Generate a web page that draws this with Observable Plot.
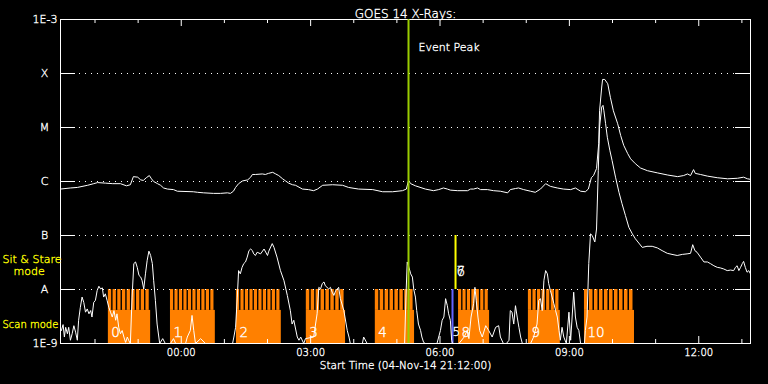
<!DOCTYPE html>
<html><head><meta charset="utf-8">
<script src="https://cdn.jsdelivr.net/npm/d3@7"></script>
<script src="https://cdn.jsdelivr.net/npm/@observablehq/plot@0.6"></script>
<style>html,body{margin:0;padding:0;background:#000;}svg{display:block}</style>
</head><body><div id="chart"></div>
<script>
// Time window
const startTime = "2014-11-04T21:12:00Z";
const endTime = "2014-11-05T13:12:00Z";
// [hours UT relative to 2014-11-05 00:00, log10 flux (W/m^2)]
const longChannel = [[-2.80,-6.14],[-2.57,-6.12],[-2.41,-6.11],[-2.17,-6.07],[-2.03,-6.04],[-1.94,-6.02],[-1.76,-6.03],[-1.59,-6.04],[-1.41,-6.04],[-1.27,-6.08],[-1.18,-6.06],[-1.11,-5.91],[-1.01,-5.92],[-0.94,-5.97],[-0.88,-5.98],[-0.81,-5.93],[-0.74,-5.89],[-0.69,-5.95],[-0.64,-6.00],[-0.55,-6.04],[-0.48,-6.07],[-0.41,-6.12],[-0.32,-6.14],[-0.18,-6.15],[-0.09,-6.18],[0.28,-6.19],[0.38,-6.20],[0.52,-6.21],[0.75,-6.22],[0.91,-6.22],[1.07,-6.21],[1.14,-6.22],[1.21,-6.18],[1.26,-6.11],[1.33,-6.04],[1.42,-5.99],[1.54,-5.97],[1.61,-5.92],[1.65,-5.87],[1.72,-5.87],[1.88,-5.86],[1.95,-5.87],[2.02,-5.85],[2.12,-5.83],[2.19,-5.86],[2.26,-5.89],[2.35,-5.95],[2.42,-5.99],[2.49,-6.03],[2.58,-6.06],[2.65,-6.07],[2.81,-6.14],[2.95,-6.15],[3.07,-6.17],[3.16,-6.14],[3.28,-6.07],[3.51,-6.06],[3.74,-6.07],[3.88,-6.11],[4.11,-6.14],[4.44,-6.15],[4.67,-6.19],[4.90,-6.19],[5.13,-6.17],[5.22,-6.14],[5.27,-5.98],[5.32,-6.04],[5.43,-6.08],[5.66,-6.14],[5.85,-6.17],[5.97,-6.15],[6.08,-6.12],[6.17,-6.14],[6.24,-6.16],[6.41,-6.17],[6.64,-6.17],[6.71,-6.14],[6.78,-6.14],[6.87,-6.12],[6.94,-6.15],[7.10,-6.15],[7.24,-6.17],[7.40,-6.18],[7.57,-6.21],[7.63,-6.15],[7.75,-6.13],[7.82,-6.12],[7.94,-6.15],[8.10,-6.18],[8.21,-6.20],[8.33,-6.14],[8.45,-6.04],[8.56,-6.09],[8.72,-6.12],[8.86,-6.14],[9.03,-6.15],[9.14,-6.12],[9.26,-6.18],[9.37,-6.19],[9.44,-6.14],[9.51,-5.93],[9.56,-5.89],[9.63,-5.76],[9.68,-5.30],[9.70,-4.69],[9.75,-4.25],[9.77,-4.11],[9.82,-4.11],[9.89,-4.19],[9.95,-4.44],[10.02,-4.69],[10.12,-4.93],[10.19,-5.15],[10.26,-5.33],[10.35,-5.48],[10.42,-5.58],[10.53,-5.67],[10.65,-5.75],[10.81,-5.80],[11.04,-5.84],[11.28,-5.88],[11.51,-5.91],[11.65,-5.89],[11.74,-5.86],[11.81,-5.89],[11.88,-5.78],[11.92,-5.85],[12.04,-5.87],[12.20,-5.90],[12.43,-5.93],[12.67,-5.95],[12.90,-5.94],[13.04,-5.92],[13.13,-5.95],[13.20,-5.96]];
const shortChannel = [[-2.78,-8.76],[-2.74,-8.65],[-2.71,-8.88],[-2.68,-8.70],[-2.64,-8.82],[-2.61,-8.70],[-2.57,-8.94],[-2.53,-8.82],[-2.49,-8.67],[-2.45,-8.79],[-2.41,-8.94],[-2.38,-8.57],[-2.34,-8.33],[-2.30,-8.14],[-2.26,-8.24],[-2.22,-8.42],[-2.18,-8.36],[-2.14,-8.45],[-2.10,-8.39],[-2.07,-8.51],[-2.03,-8.24],[-1.99,-8.20],[-1.95,-8.02],[-1.91,-7.94],[-1.87,-7.99],[-1.83,-7.97],[-1.80,-8.14],[-1.76,-8.08],[-1.72,-8.20],[-1.68,-8.33],[-1.64,-8.42],[-1.60,-8.51],[-1.56,-8.39],[-1.52,-8.57],[-1.49,-8.45],[-1.45,-8.70],[-1.41,-8.82],[-1.37,-8.76],[-1.33,-8.88],[-1.29,-8.98],[-1.25,-8.88],[-1.22,-8.94],[-1.18,-9.00],[-1.14,-8.14],[-1.10,-7.52],[-1.06,-7.49],[-1.02,-7.59],[-0.98,-7.74],[-0.94,-7.77],[-0.91,-7.83],[-0.87,-7.99],[-0.83,-7.71],[-0.79,-7.46],[-0.75,-7.29],[-0.71,-7.37],[-0.67,-7.52],[-0.64,-7.83],[-0.60,-8.20],[-0.56,-8.64],[-0.52,-8.88],[-0.50,-9.00],[-0.43,-8.91],[-0.37,-9.00],[-0.25,-9.00],[-0.18,-8.91],[-0.13,-9.00],[0.10,-9.00],[0.14,-8.88],[0.21,-8.76],[0.25,-8.48],[0.29,-8.76],[0.33,-9.00],[0.45,-8.91],[0.56,-9.00],[1.19,-9.00],[1.22,-8.88],[1.26,-8.70],[1.30,-8.14],[1.33,-7.65],[1.37,-7.71],[1.41,-7.59],[1.45,-7.52],[1.49,-7.49],[1.53,-7.40],[1.57,-7.28],[1.61,-7.25],[1.65,-7.28],[1.68,-7.34],[1.72,-7.37],[1.76,-7.31],[1.84,-7.34],[1.92,-7.25],[2.00,-7.37],[2.03,-7.29],[2.11,-7.15],[2.15,-7.22],[2.22,-7.40],[2.30,-7.65],[2.38,-7.83],[2.46,-8.11],[2.53,-8.39],[2.57,-8.64],[2.61,-8.57],[2.69,-8.88],[2.73,-8.94],[2.77,-8.88],[2.84,-9.00],[2.88,-8.91],[3.07,-8.88],[3.15,-8.45],[3.19,-7.96],[3.23,-7.99],[3.27,-7.89],[3.31,-7.86],[3.34,-7.93],[3.42,-7.99],[3.46,-7.96],[3.50,-8.05],[3.54,-8.11],[3.58,-8.02],[3.62,-7.99],[3.65,-7.96],[3.69,-8.17],[3.77,-8.39],[3.85,-8.76],[3.89,-8.88],[3.92,-9.00],[4.20,-9.00],[4.23,-8.88],[4.31,-9.00],[5.18,-9.00],[5.21,-8.14],[5.24,-7.49],[5.28,-7.59],[5.32,-7.71],[5.36,-7.77],[5.39,-7.99],[5.43,-8.14],[5.46,-8.39],[5.50,-8.64],[5.55,-8.76],[5.58,-8.88],[5.62,-8.98],[5.66,-9.00],[5.93,-9.00],[6.01,-8.76],[6.05,-8.57],[6.09,-8.51],[6.13,-8.17],[6.17,-8.30],[6.20,-8.45],[6.24,-8.57],[6.27,-8.94],[6.29,-9.00],[6.44,-9.00],[6.56,-8.88],[6.63,-8.76],[6.67,-8.91],[6.72,-8.51],[6.78,-8.26],[6.81,-7.96],[6.84,-8.20],[6.88,-8.51],[6.92,-8.76],[6.98,-8.88],[7.06,-8.67],[7.13,-8.76],[7.21,-8.88],[7.29,-8.70],[7.36,-8.67],[7.40,-8.88],[7.47,-9.00],[7.54,-9.00],[7.60,-8.94],[7.63,-8.39],[7.67,-8.42],[7.71,-8.64],[7.75,-8.30],[7.79,-8.51],[7.83,-8.70],[7.87,-8.88],[7.91,-9.00],[8.10,-9.00],[8.17,-8.88],[8.25,-8.64],[8.29,-8.20],[8.33,-8.17],[8.37,-8.39],[8.41,-7.83],[8.45,-7.65],[8.49,-7.71],[8.52,-7.89],[8.56,-8.02],[8.60,-8.14],[8.64,-8.26],[8.68,-8.39],[8.72,-8.51],[8.76,-8.76],[8.79,-8.94],[8.83,-8.70],[8.87,-8.88],[8.93,-9.00],[8.99,-8.42],[9.03,-8.94],[9.10,-8.05],[9.14,-8.51],[9.18,-8.70],[9.22,-8.76],[9.26,-9.00],[9.35,-9.00],[9.37,-8.76],[9.41,-8.51],[9.45,-7.52],[9.49,-6.97],[9.53,-7.00],[9.59,-7.12],[9.63,-6.88],[9.67,-5.80],[9.70,-4.99],[9.75,-4.62],[9.78,-4.59],[9.80,-4.69],[9.84,-4.93],[9.88,-5.18],[9.94,-5.43],[9.99,-5.61],[10.07,-5.92],[10.15,-6.20],[10.22,-6.41],[10.30,-6.63],[10.38,-6.85],[10.46,-6.97],[10.53,-7.06],[10.61,-7.14],[10.69,-7.22],[10.80,-7.20],[10.92,-7.20],[11.04,-7.23],[11.15,-7.28],[11.27,-7.33],[11.38,-7.35],[11.50,-7.37],[11.62,-7.35],[11.73,-7.34],[11.81,-7.33],[11.86,-7.17],[11.91,-7.28],[11.96,-7.31],[12.04,-7.40],[12.12,-7.49],[12.20,-7.49],[12.27,-7.52],[12.35,-7.56],[12.43,-7.59],[12.50,-7.60],[12.58,-7.62],[12.66,-7.65],[12.74,-7.64],[12.81,-7.65],[12.85,-7.59],[12.89,-7.56],[12.93,-7.65],[12.97,-7.59],[13.01,-7.52],[13.04,-7.48],[13.08,-7.59],[13.12,-7.68],[13.16,-7.65],[13.20,-7.71]];

// Flare class levels
const levelValues = [1e-3, 1e-4, 1e-5, 1e-6, 1e-7, 1e-8, 1e-9];
const levelLabels = ["1E-3", "X", "M", "C", "B", "A", "1E-9"];

// Raster (scan mode) observation blocks, hours relative to 05-Nov 00:00 UT
const blockIds   = ["0", "1", "2", "3", "4", "8", "9", "10"];
const blockStart = [-1.69, -0.25, 1.28, 2.90, 4.50, 6.43, 8.05, 9.35];
const blockEnd   = [-0.71, 0.79, 2.32, 3.81, 5.41, 7.15, 8.79, 10.51];
const blockSteps = [9, 10, 10, 8, 8, 7, 7, 10];

// Mode levels
const scanLevel = [1e-9, 1e-8];
const stareLevel = [1e-8, 1e-7];
const stepBase = 4.1e-9;

// Markers
const eventPeakTime = 5.27;
const scanMarkerTime = 6.29;
const scanMarkerId = "5";
const stareMarkerTime = 6.36;
const stareMarkerIds = ["6", "7"];

const timeTickLabels = ["00:00", "03:00", "06:00", "09:00", "12:00"];

const day0 = Date.UTC(2014, 10, 5);
const toDate = h => new Date(day0 + h * 3600e3);
const orange = "#ff8000";

const longData = longChannel.map(([h, l]) => ({date: toDate(h), flux: 10 ** l}));
const shortData = shortChannel.map(([h, l]) => ({date: toDate(h), flux: 10 ** l}));
const blocks = blockIds.map((id, i) => ({id, start: toDate(blockStart[i]), end: toDate(blockEnd[i]), s: blockStart[i], e: blockEnd[i], n: blockSteps[i]}));
const steps = blocks.flatMap(b => d3.range(b.n).map(k => ({
  x1: toDate(b.s + (b.e - b.s) * k / b.n),
  x2: toDate(b.s + (b.e - b.s) * (k + 0.7) / b.n)
})));

const t0 = new Date(startTime), t1 = new Date(endTime);
const hours = d3.utcHour.range(d3.utcHour.ceil(t0), t1);
const minorHours = hours.filter(d => d.getUTCHours() % 3 !== 0);
const majorHours = hours.filter(d => d.getUTCHours() % 3 === 0);
const tickLabelData = timeTickLabels.map(s => ({label: s, date: toDate(+s.slice(0, 2))}));
const levelData = levelLabels.map((label, i) => ({label, value: levelValues[i]}));
const plotH = 384 - 19 - 41, plotW = 768 - 60 - 18;
const font = "DejaVu Sans";
const W = {fill: "white", stroke: "white", strokeWidth: 0.35};
const Y = {fill: "#ffff00", stroke: "#ffff00", strokeWidth: 0.35};

const chart = Plot.plot({
  width: 768, height: 384,
  marginLeft: 60, marginRight: 18, marginTop: 19, marginBottom: 41,
  style: {background: "black", color: "white", fontFamily: font, fontWeight: 200},
  x: {type: "utc", domain: [t0, t1], axis: null},
  y: {type: "log", domain: [1e-9, 1e-3], axis: null},
  marks: [
    Plot.rect(blocks, {x1: "start", x2: "end", y1: scanLevel[0], y2: stepBase, fill: orange}),
    Plot.rect(steps, {x1: "x1", x2: "x2", y1: stepBase, y2: scanLevel[1], fill: orange}),
    Plot.tickY(levelValues.slice(1, -1), {stroke: "white", strokeDasharray: "1,5", strokeDashoffset: 2, insetLeft: 15, insetRight: 15}),
    Plot.tickY(levelValues, {stroke: "white", insetRight: plotW - 15}),
    Plot.tickY(levelValues, {stroke: "white", insetLeft: plotW - 15}),
    Plot.tickX(minorHours, {stroke: "white", insetBottom: plotH - 4}),
    Plot.tickX(majorHours, {stroke: "white", insetBottom: plotH - 7}),
    Plot.tickX(minorHours, {stroke: "white", insetTop: plotH - 4}),
    Plot.tickX(majorHours, {stroke: "white", insetTop: plotH - 7}),
    Plot.frame({stroke: "white"}),
    Plot.ruleX([scanMarkerTime], {x: toDate, y1: scanLevel[0], y2: scanLevel[1], stroke: "#6464ff", strokeWidth: 2}),
    Plot.ruleX([stareMarkerTime], {x: toDate, y1: stareLevel[0], y2: stareLevel[1], stroke: "#ffff00", strokeWidth: 2}),
    Plot.line(shortData, {x: "date", y: "flux", stroke: "white", strokeWidth: 1, clip: true}),
    Plot.line(longData, {x: "date", y: "flux", stroke: "white", strokeWidth: 1, clip: true}),
    Plot.ruleX([eventPeakTime], {x: toDate, stroke: "#9acd00", strokeWidth: 2}),
    Plot.text(["Event Peak"], {x: () => toDate(eventPeakTime), frameAnchor: "top", dy: 24, dx: 10, textAnchor: "start", fontSize: 11, ...W}),
    Plot.text(blocks, {x: "start", y: scanLevel[0], text: "id", dx: 3, dy: -11, textAnchor: "start", fontSize: 13.5, ...W}),
    Plot.text([scanMarkerId], {x: () => toDate(scanMarkerTime), y: scanLevel[0], dx: 0, dy: -11, textAnchor: "start", fontSize: 12, ...W}),
    Plot.text(stareMarkerIds, {x: () => toDate(stareMarkerTime), y: stareLevel[0], dx: 1, dy: -18, textAnchor: "start", fontSize: 13.5, ...W}),
    Plot.text(levelData.filter(d => d.label.startsWith("1E")), {y: "value", text: "label", frameAnchor: "left", dx: -3, textAnchor: "end", fontSize: 11, ...W}),
    Plot.text(levelData.filter(d => !d.label.startsWith("1E")), {y: "value", text: "label", frameAnchor: "left", dx: -16, textAnchor: "middle", fontSize: 11, ...W}),
    Plot.text(["Sit & Stare"], {y: () => Math.sqrt(stareLevel[0] * stareLevel[1]), frameAnchor: "left", dx: -58, dy: -3, textAnchor: "start", fontSize: 11, ...Y}),
    Plot.text(["mode"], {y: () => Math.sqrt(stareLevel[0] * stareLevel[1]), frameAnchor: "left", dx: -47, dy: 9, textAnchor: "start", fontSize: 11, ...Y}),
    Plot.text(["Scan mode"], {y: () => Math.sqrt(scanLevel[0] * scanLevel[1]), frameAnchor: "left", dx: -58, dy: 8, textAnchor: "start", fontSize: 10, ...Y}),
    Plot.text(tickLabelData, {x: "date", text: "label", frameAnchor: "bottom", dy: 12, fontSize: 10, ...W}),
    Plot.text(["Start Time (04-Nov-14 21:12:00)"], {frameAnchor: "bottom", dy: 25, fontSize: 10.5, ...W}),
    Plot.text(["GOES 14 X-Rays:"], {frameAnchor: "top", dy: -10, fontSize: 12, ...W})
  ]
});
document.getElementById("chart").append(chart);
</script>
</body></html>
